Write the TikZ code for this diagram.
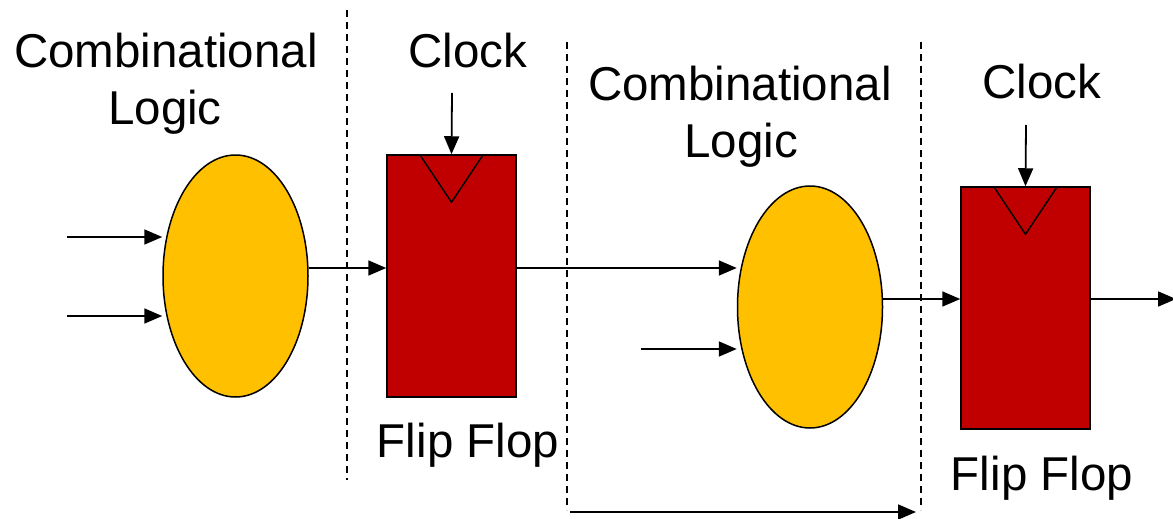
\documentclass[tikz,border=0pt]{standalone}
\usepackage{fontspec}
\setmainfont{Liberation Sans}
\usetikzlibrary{shapes.geometric,arrows.meta}
\definecolor{combo}{HTML}{FFC000}
\definecolor{ffred}{HTML}{C00000}
\begin{document}
\begin{tikzpicture}[x=1pt,y=-1pt,
  lbl/.style={font=\fontsize{47.5}{57}\selectfont,anchor=base,inner sep=0pt},
  logicblob/.style={ellipse,draw=black,line width=1.5pt,fill=combo,minimum width=145pt,minimum height=242pt,inner sep=0pt},
  ffbox/.style={rectangle,draw=black,line width=1.5pt,fill=ffred,minimum width=129pt,minimum height=242pt,inner sep=0pt},
  arr/.style={line width=1.8pt,-{Triangle[length=18pt,width=15pt]}},
  sep/.style={line width=1.6pt,dash pattern=on 7pt off 5pt}]
\useasboundingbox (0,0) rectangle (1173,519);
% blocks
\node[logicblob] (e1) at (235.5,276) {};
\node[ffbox] (ff1) at (451.5,276) {};
\node[logicblob] (e2) at (810,307) {};
\node[ffbox] (ff2) at (1025.5,308) {};
% clock triangles
\draw[line width=1.5pt] ([xshift=-32pt]ff1.north) -- ([yshift=-48pt]ff1.north) -- ([xshift=32pt]ff1.north);
\draw[line width=1.5pt] ([xshift=-32pt]ff2.north) -- ([yshift=-48pt]ff2.north) -- ([xshift=32pt]ff2.north);
% labels
\node[lbl] (t1) at (166,67) {Combinational};
\node[lbl] (t2) at (165,124) {Logic};
\node[lbl] (ck1) at (468,67) {Clock};
\node[lbl] (fl1) at (468,457) {Flip Flop};
\node[lbl] (t3) at (740,100) {Combinational};
\node[lbl] (t4) at (741,157) {Logic};
\node[lbl] (ck2) at (1042,99) {Clock};
\node[lbl] (fl2) at (1042,490) {Flip Flop};
% dashed separators
\coordinate (d1a) at (347,10); \coordinate (d1b) at (347,480);
\coordinate (d2a) at (567,42); \coordinate (d2b) at (567,510);
\coordinate (d3a) at (921,42); \coordinate (d3b) at (921,510);
\draw[sep] (d1a) -- (d1b);
\draw[sep] (d2a) -- (d2b);
\draw[sep] (d3a) -- (d3b);
% inputs
\coordinate (in1) at (67,237);
\coordinate (in2) at (67,316);
\coordinate (in3) at (641,349);
\draw[arr] (in1) -- (in1 -| e1.west);
\draw[arr] (in2) -- (in2 -| e1.west);
\draw[arr] (in3) -- (in3 -| e2.west);
% clocks
\coordinate (c1) at (452,93);
\coordinate (c2) at (1026,125);
\draw[arr] (c1) -- (ff1.north);
\draw[arr] (c2) -- (ff2.north);
% data path
\draw[arr] ([yshift=8pt]e1.east) -- ([yshift=8pt]e1.east -| ff1.west);
\draw[arr] ([yshift=8pt]ff1.east) -- ([yshift=8pt]ff1.east -| e2.west);
\draw[arr] ([yshift=8pt]e2.east) -- ([yshift=8pt]e2.east -| ff2.west);
\coordinate (out) at (1176,299);
\draw[arr] (ff2.east |- out) -- (out);
% bottom timing arrow
\coordinate (b1) at (570,512);
\coordinate (b2) at (916,512);
\draw[arr] (b1) -- (b2);
\end{tikzpicture}
\end{document}
